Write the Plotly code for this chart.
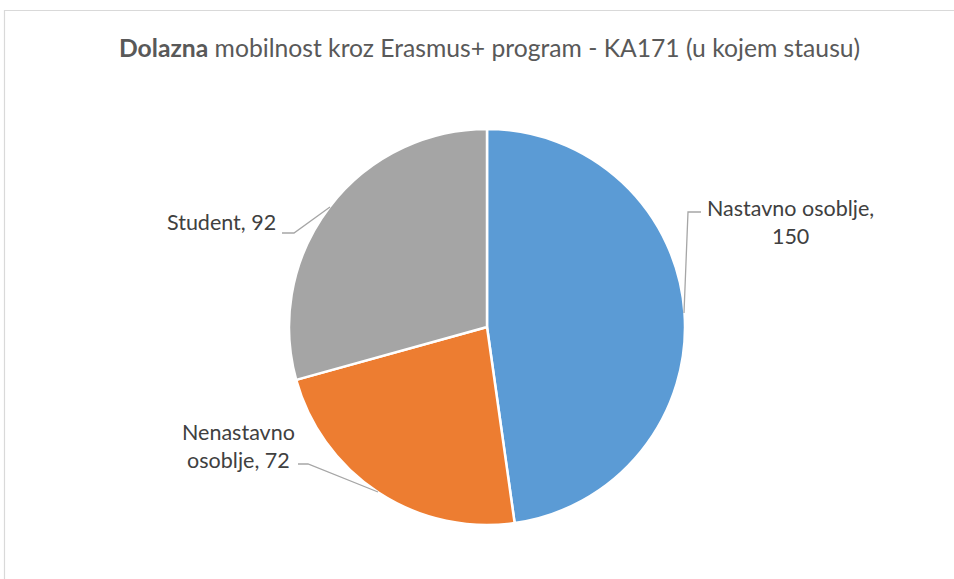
import plotly.graph_objects as go

W, H = 954, 579

categories = ["Nastavno osoblje", "Nenastavno osoblje", "Student"]
values = [150, 72, 92]
colors = ["#5B9BD5", "#ED7D31", "#A5A5A5"]

# label text split the way the original wraps it
label_lines = [["Nastavno osoblje,", "{v}"], ["Nenastavno", "osoblje, {v}"], ["Student, {v}"]]


def px_x(x):
    return x / W


def px_y(y):
    return 1 - y / H


fig = go.Figure(go.Pie(
    labels=categories, values=values, sort=False, direction="clockwise", rotation=0,
    marker=dict(colors=colors, line=dict(color="white", width=2.5)),
    textinfo="none", hoverinfo="label+value", showlegend=False,
    domain=dict(x=[px_x(289), px_x(685)], y=[px_y(525), px_y(129)]),
))

font = dict(family="Lato, Open Sans, sans-serif", size=21.5, color="#404040")
# label anchors (pixel positions) and leader lines
label_pos = [(790, 222, "center"), (238, 446, "center"), (278, 222, "right")]
leaders = [
    [(701, 212), (688, 212), (684, 313)],
    [(298, 464), (308, 464), (378, 492)],
    [(282, 233), (294, 233), (330, 207)],
]

for i, (x, y, align) in enumerate(label_pos):
    text = "<br>".join(s.format(v=values[i]) for s in label_lines[i])
    fig.add_annotation(x=px_x(x), y=px_y(y), xref="paper", yref="paper", text=text,
                       showarrow=False, font=font, align=align, yanchor="middle",
                       xanchor="center" if align == "center" else "right")
    pts = leaders[i]
    path = "M " + " L ".join(f"{px_x(a)},{px_y(b)}" for a, b in pts)
    fig.add_shape(type="path", path=path, xref="paper", yref="paper",
                  line=dict(color="#A6A6A6", width=1.3))

fig.add_annotation(x=px_x(489), y=px_y(48), xref="paper", yref="paper", xanchor="center", yanchor="middle",
                   text="<b>Dolazna</b> mobilnost kroz Erasmus+ program - KA171 (u kojem stausu)",
                   showarrow=False, font=dict(family="Lato, Open Sans, sans-serif", size=24.7, color="#595959"))

# chart frame (runs off the right and bottom edges like the cropped original)
fig.add_shape(type="rect", xref="paper", yref="paper", x0=px_x(4.5), x1=1.05, y0=-0.05, y1=px_y(10.5),
              line=dict(color="#D9D9D9", width=1.2), fillcolor="rgba(0,0,0,0)")

fig.update_layout(width=W, height=H, margin=dict(l=0, r=0, t=0, b=0),
                  paper_bgcolor="white", plot_bgcolor="white")
# drop the default page margin so the figure sits at the window corner
fig.write_html("out.html", config={"displayModeBar": False},
               post_script="document.body.style.margin='0';")
